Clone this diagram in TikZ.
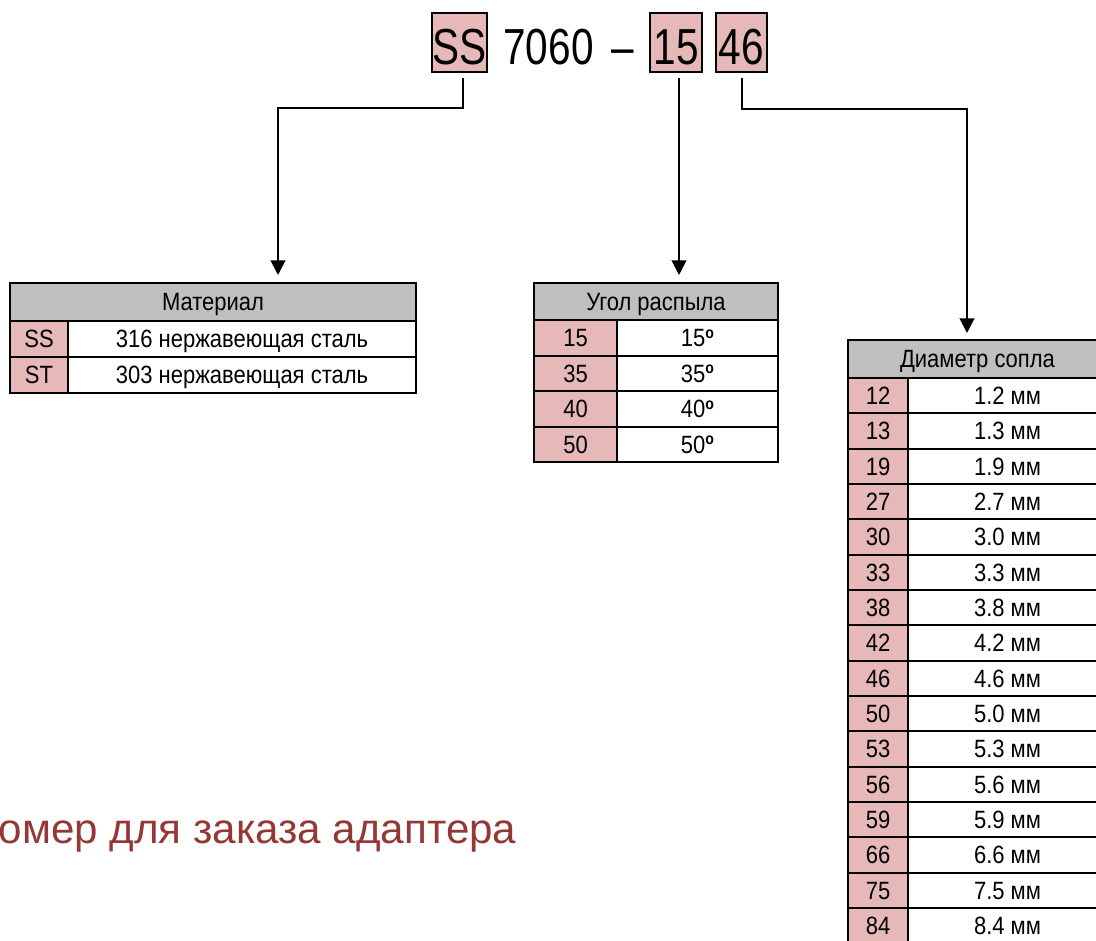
\documentclass[tikz,border=0pt]{standalone}
\usepackage{fontspec}
\setmainfont{Liberation Sans}
\newfontfamily\hdrfont[FakeStretch=0.8]{Liberation Sans}
\newfontfamily\tabfont[FakeStretch=0.88]{Liberation Sans}
\usetikzlibrary{arrows.meta}
\definecolor{pinkc}{HTML}{E6B8B7}
\definecolor{grayc}{HTML}{BFBFBF}
\definecolor{redc}{HTML}{953735}
\newcommand\degmark{\raisebox{0.62ex}{\fontsize{12}{12}\selectfont\bfseries o}}
\begin{document}
\begin{tikzpicture}[x=0.75pt,y=-0.75pt,
  codebox/.style={draw, fill=pinkc, line width=2.1pt, minimum width=#1*0.75pt,
    minimum height=59*0.75pt, inner sep=0pt, outer sep=0pt,
    text height=33.75pt, text depth=0pt, font=\hdrfont\fontsize{38}{38}\selectfont},
  hdrtext/.style={anchor=base, inner sep=0pt, font=\hdrfont\fontsize{38}{38}\selectfont},
  cell/.style 2 args={draw, line width=1.5pt, minimum width=#1*0.75pt,
    minimum height=#2*0.75pt, anchor=north west, inner sep=0pt, outer sep=0pt,
    text height=13.4pt, text depth=0pt, font=\tabfont\fontsize{18.75}{18.75}\selectfont},
  hdrcell/.style 2 args={cell={#1}{#2}, fill=grayc},
  keycell/.style 2 args={cell={#1}{#2}, fill=pinkc},
  valcell/.style 2 args={cell={#1}{#2}, fill=white},
  conn/.style={line width=1.5pt},
  arr/.style={conn, -{Triangle[width=11pt,length=11pt]}}
]
\useasboundingbox (0,0) rectangle (1096,941);
\clip (0,0) rectangle (1096,941);
\fill[white] (0,0) rectangle (1096,941);

% header code
\node[codebox=55] (ss) at (459.5,42.5) {SS};
\node[hdrtext] (num) at (548.5,65) {7060};
\node[hdrtext] (dash) at (623,65) {–};
\node[codebox=52] (b15) at (676,42.5) {15};
\node[codebox=51] (b46) at (741.5,42.5) {46};

% material table
\node[hdrcell={406}{38}] (mat) at (10,283) {Материал};
\node[keycell={58}{36}] (matk1) at (10,321) {SS};
\node[valcell={348}{36}] (matv1) at (68,321) {316 нержавеющая сталь};
\node[keycell={58}{36}] (matk2) at (10,357) {ST};
\node[valcell={348}{36}] (matv2) at (68,357) {303 нержавеющая сталь};

% angle table
\node[hdrcell={244}{37}] (ang) at (534,283) {Угол распыла};
\foreach \k [count=\i from 0] in {15,35,40,50}{
  \node[keycell={83}{35.5}] (angk\i) at (534,{320+35.5*\i}) {\k};
  \node[valcell={161}{35.5}] (angv\i) at (617,{320+35.5*\i}) {\k\degmark};
}

% diameter table
\node[hdrcell={259}{38}] (dia) at (848,340) {Диаметр сопла};
\foreach \k/\v [count=\i from 0] in {12/1.2,13/1.3,19/1.9,27/2.7,30/3.0,33/3.3,38/3.8,42/4.2,46/4.6,50/5.0,53/5.3,56/5.6,59/5.9,66/6.6,75/7.5,84/8.4}{
  \node[keycell={60}{35.33}] (diak\i) at (848,{378+35.33*\i}) {\k};
  \node[valcell={199}{35.33}] (diav\i) at (908,{378+35.33*\i}) {\v\ мм};
}

% connectors
\draw[arr] ([shift={(3.5,6)}]ss.south) -- ++(0,30) -| ([shift={(65,-8)}]mat.north);
\draw[arr] ([shift={(3,6)}]b15.south) -- ([shift={(23,-8)}]ang.north);
\draw[arr] ([shift={(0,6)}]b46.south) -- ++(0,31) -| ([shift={(-10.5,-7)}]dia.north);

% caption
\node[anchor=base west, inner sep=0pt, text=redc, font=\fontsize{31.6}{31.6}\selectfont] (title) at (-1.5,843) {омер для заказа адаптера};
\end{tikzpicture}
\end{document}
